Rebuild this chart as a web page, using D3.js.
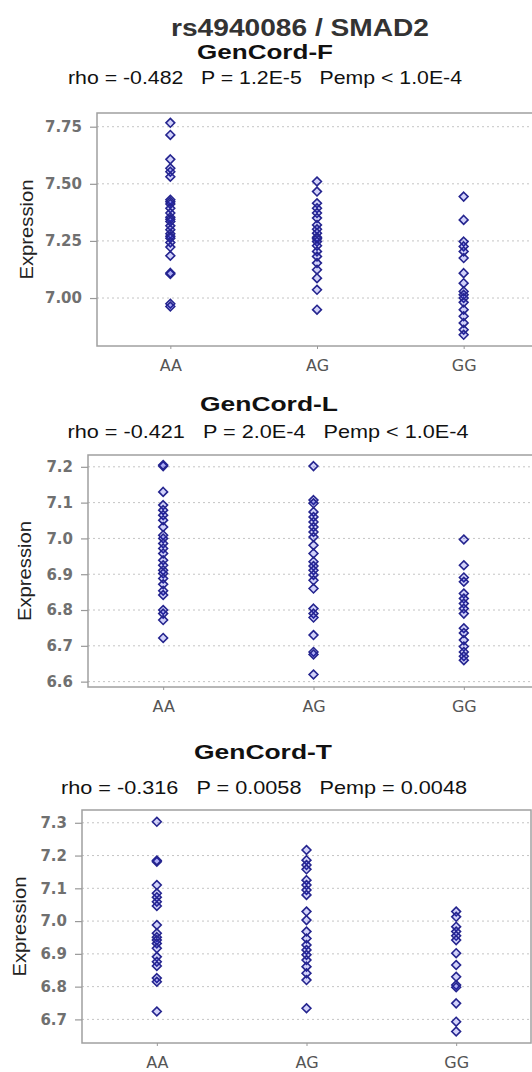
<!DOCTYPE html>
<html>
<head>
<meta charset="utf-8">
<script src="https://cdn.jsdelivr.net/npm/d3@7"></script>
<style>
  body { margin: 0; background: #fff; }
  svg { display: block; }
</style>
</head>
<body>
<div id="chart"></div>
<script>
// genotype groups and panel labels
var genotypes = ["AA", "AG", "GG"];
var mainTitle = "rs4940086 / SMAD2";
var panelNames = ["GenCord-F", "GenCord-L", "GenCord-T"];
var statsText = [
  "rho = -0.482   P = 1.2E-5   Pemp < 1.0E-4",
  "rho = -0.421   P = 2.0E-4   Pemp < 1.0E-4",
  "rho = -0.316   P = 0.0058   Pemp = 0.0048"
];

// GenCord-F expression values
var fAA = [7.767, 7.714, 7.607, 7.568, 7.553, 7.531, 7.430, 7.421, 7.412, 7.393, 7.372, 7.354, 7.345,
  7.335, 7.316, 7.299, 7.281, 7.270, 7.262, 7.243, 7.223, 7.185, 7.105, 7.110, 6.975, 6.963];
var fAG = [7.510, 7.466, 7.415, 7.393, 7.372, 7.350, 7.320, 7.301, 7.284, 7.266, 7.260, 7.247,
  7.229, 7.204, 7.182, 7.153, 7.124, 7.087, 7.036, 6.949];
var fGG = [7.444, 7.342, 7.247, 7.226, 7.204, 7.175, 7.109, 7.065, 7.029, 7.014, 7.000, 6.981,
  6.949, 6.920, 6.891, 6.861, 6.839];
var fTicks = [7.00, 7.25, 7.50, 7.75];

// GenCord-L expression values
var lAA = [7.202, 7.205, 7.130, 7.093, 7.079, 7.065, 7.051, 7.032, 7.009, 7.000, 6.986, 6.972, 6.958,
  6.939, 6.925, 6.911, 6.902, 6.888, 6.872, 6.854, 6.842, 6.800, 6.790, 6.772, 6.722];
var lAG = [7.202, 7.107, 7.098, 7.074, 7.060, 7.046, 7.032, 7.018, 7.004, 6.981, 6.958, 6.935,
  6.923, 6.911, 6.898, 6.883, 6.860, 6.804, 6.790, 6.779, 6.730, 6.683, 6.676, 6.620];
var lGG = [6.997, 6.925, 6.891, 6.879, 6.846, 6.832, 6.818, 6.804, 6.790, 6.749, 6.736, 6.716,
  6.698, 6.683, 6.671, 6.660];
var lTicks = [6.6, 6.7, 6.8, 6.9, 7.0, 7.1, 7.2];

// GenCord-T expression values
var tAA = [7.303, 7.181, 7.185, 7.110, 7.085, 7.073, 7.059, 7.046, 6.988, 6.963, 6.951, 6.942,
  6.932, 6.917, 6.891, 6.876, 6.863, 6.826, 6.815, 6.724];
var tAG = [7.217, 7.186, 7.171, 7.158, 7.125, 7.110, 7.095, 7.080, 7.029, 7.003, 6.968, 6.947,
  6.927, 6.912, 6.897, 6.881, 6.861, 6.841, 6.820, 6.734];
var tGG = [7.029, 7.013, 6.983, 6.968, 6.955, 6.942, 6.902, 6.866, 6.830, 6.805, 6.798, 6.749,
  6.693, 6.663];
var tTicks = [6.7, 6.8, 6.9, 7.0, 7.1, 7.2, 7.3];

var W = 532, H = 1072;
var svg = d3.select("#chart").append("svg")
  .attr("width", W)
  .attr("height", H);

svg.append("text")
  .attr("x", 300).attr("y", 36)
  .attr("text-anchor", "middle")
  .attr("textLength", 258).attr("lengthAdjust", "spacingAndGlyphs")
  .style("font-family", "Liberation Sans, Arial, sans-serif")
  .style("font-weight", "bold")
  .style("font-size", "23px")
  .style("fill", "#333")
  .text(mainTitle);

var panels = [
  { name: panelNames[0], stats: statsText[0], groups: [fAA, fAG, fGG], ticks: fTicks, fmt: ".2f",
    domain: [6.79, 7.81], left: 97, right: 537, top: 113, bottom: 346,
    titleX: 265, titleY: 59, titleW: 136, statsX: 265, statsY: 84, statsW: 394, labelX: 27 },
  { name: panelNames[1], stats: statsText[1], groups: [lAA, lAG, lGG], ticks: lTicks, fmt: ".1f",
    domain: [6.585, 7.233], left: 88, right: 539, top: 455, bottom: 687,
    titleX: 269, titleY: 411, titleW: 138, statsX: 268, statsY: 438, statsW: 401, labelX: 25 },
  { name: panelNames[2], stats: statsText[2], groups: [tAA, tAG, tGG], ticks: tTicks, fmt: ".1f",
    domain: [6.628, 7.339], left: 82, right: 531, top: 810, bottom: 1043,
    titleX: 263, titleY: 759, titleW: 138, statsX: 264, statsY: 794, statsW: 406, labelX: 20 }
];

var diamond = "M0,-4.4L4.4,0L0,4.4L-4.4,0Z";

panels.forEach(function(p) {
  var g = svg.append("g");

  var x = d3.scalePoint().domain(genotypes).range([p.left, p.right]).padding(0.5);
  var y = d3.scaleLinear().domain(p.domain).range([p.bottom, p.top]);

  // headings
  g.append("text")
    .attr("x", p.titleX).attr("y", p.titleY)
    .attr("text-anchor", "middle")
    .attr("textLength", p.titleW).attr("lengthAdjust", "spacingAndGlyphs")
    .style("font-family", "Liberation Sans, Arial, sans-serif")
    .style("font-weight", "bold")
    .style("font-size", "20px")
    .style("fill", "#111")
    .text(p.name);
  g.append("text")
    .attr("x", p.statsX).attr("y", p.statsY)
    .attr("text-anchor", "middle")
    .attr("textLength", p.statsW).attr("lengthAdjust", "spacingAndGlyphs")
    .style("font-family", "Liberation Sans, Arial, sans-serif")
    .style("font-size", "18.5px")
    .style("fill", "#111")
    .style("white-space", "pre")
    .text(p.stats);

  // grid
  g.selectAll(".grid").data(p.ticks).enter().append("line")
    .attr("x1", p.left).attr("x2", p.right)
    .attr("y1", function(d) { return y(d); })
    .attr("y2", function(d) { return y(d); })
    .attr("stroke", "#c4c4c4")
    .attr("stroke-width", 1)
    .attr("stroke-dasharray", "2,3");

  // frame
  g.append("rect")
    .attr("x", p.left).attr("y", p.top)
    .attr("width", p.right - p.left).attr("height", p.bottom - p.top)
    .attr("fill", "none")
    .attr("stroke", "#a0a0a0")
    .attr("stroke-width", 1.5);

  // y axis
  var ya = g.append("g")
    .attr("transform", "translate(" + p.left + ",0)")
    .call(d3.axisLeft(y).tickValues(p.ticks).tickFormat(d3.format(p.fmt)).tickSize(7).tickPadding(8));
  ya.select(".domain").remove();
  ya.selectAll(".tick line").attr("stroke", "#999").attr("stroke-width", 1.2);
  ya.selectAll(".tick text")
    .style("font-family", "DejaVu Sans, Verdana, sans-serif")
    .style("font-weight", "bold")
    .style("font-size", "15px")
    .style("fill", "#707070");

  // x axis
  var xa = g.append("g")
    .attr("transform", "translate(0," + p.bottom + ")")
    .call(d3.axisBottom(x).tickSize(3).tickPadding(11));
  xa.select(".domain").remove();
  xa.selectAll(".tick line").attr("stroke", "#999");
  xa.selectAll(".tick text")
    .style("font-family", "DejaVu Sans, Verdana, sans-serif")
    .style("font-size", "16px")
    .style("fill", "#555");

  // y label
  g.append("text")
    .attr("transform", "translate(" + (p.labelX + 6) + "," + ((p.top + p.bottom) / 2) + ") rotate(-90)")
    .attr("text-anchor", "middle")
    .attr("textLength", 100).attr("lengthAdjust", "spacingAndGlyphs")
    .style("font-family", "Liberation Sans, Arial, sans-serif")
    .style("font-size", "18px")
    .style("fill", "#222")
    .text("Expression");

  // points
  p.groups.forEach(function(vals, i) {
    g.selectAll(".pt" + i).data(vals).enter().append("path")
      .attr("d", diamond)
      .attr("transform", function(d) { return "translate(" + x(genotypes[i]) + "," + y(d) + ")"; })
      .attr("fill", "rgba(30,30,230,0.2)")
      .attr("stroke", "#25258f")
      .attr("stroke-width", 1.6);
  });
});
</script>
</body>
</html>
